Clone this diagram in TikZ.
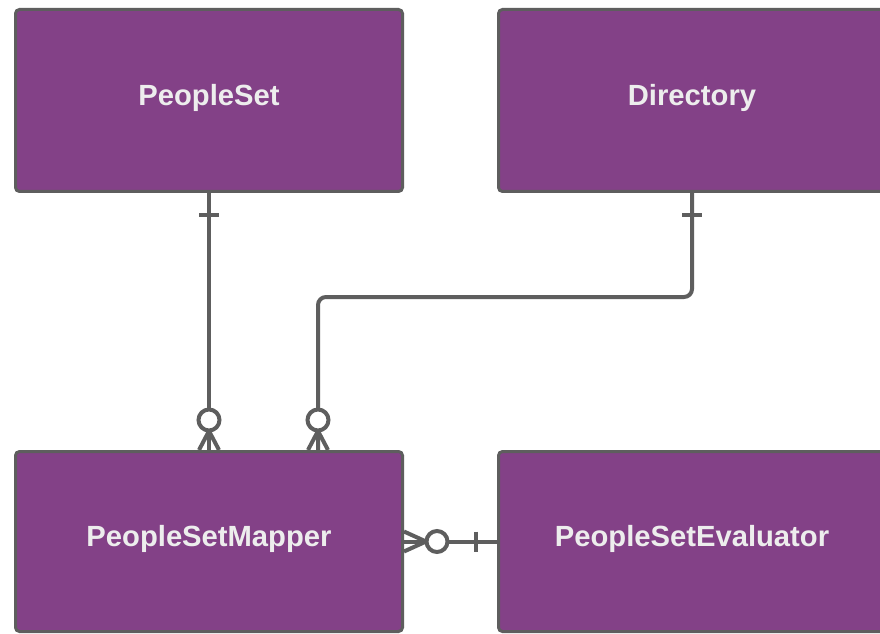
\documentclass[tikz,border=0pt]{standalone}
\usepackage{fontspec}
\setmainfont{Liberation Sans}
\usetikzlibrary{calc}
\definecolor{boxfill}{HTML}{834187}
\definecolor{edgegray}{HTML}{5E5E5E}
\definecolor{txtgray}{HTML}{EDEDED}
\begin{document}
\begin{tikzpicture}[x=0.75pt,y=-0.75pt,
  entity/.style={draw=edgegray, line width=2.25pt, fill=boxfill, rounded corners=3pt,
    minimum width=290.25pt, text=txtgray, inner sep=0pt,
    font=\fontsize{21.9}{25}\selectfont\bfseries, text height=15.9pt, text depth=7.9pt},
  conn/.style={draw=edgegray, line width=3pt},
  zcircle/.style={draw=edgegray, line width=3pt, fill=white}]
\clip (0,0) rectangle (880,634);
\fill[white] (0,0) rectangle (880,634);
\node[entity, minimum height=136.5pt] (ps) at (209,100.5) {PeopleSet};
\node[entity, minimum height=136.5pt] (dir) at (692,100.5) {Directory};
\node[entity, minimum height=135pt] (map) at (209,541.5) {PeopleSetMapper};
\node[entity, minimum height=135pt] (eval) at (692,541.5) {PeopleSetEvaluator};
\coordinate (turn) at (0,297);
\coordinate (m2) at ($(map.north)+(109,0)$);
% PeopleSet -> PeopleSetMapper
\draw[conn] (ps.south) -- (map.north);
\draw[conn] ($(ps.south)+(-10,22)$) -- ++(20,0);
\draw[conn] ($(map.north)+(0,-19)$) -- ($(map.north)+(-10,0)$);
\draw[conn] ($(map.north)+(0,-19)$) -- ($(map.north)+(10,0)$);
\draw[zcircle] ($(map.north)+(0,-30)$) circle[radius=10.5];
% Directory -> PeopleSetMapper
\draw[conn, rounded corners=6pt] (dir.south) -- (dir.south |- turn) -- (m2 |- turn) -- (m2);
\draw[conn] ($(dir.south)+(-10,22)$) -- ++(20,0);
\draw[conn] ($(m2)+(0,-19)$) -- ($(m2)+(-10,0)$);
\draw[conn] ($(m2)+(0,-19)$) -- ($(m2)+(10,0)$);
\draw[zcircle] ($(m2)+(0,-30)$) circle[radius=10.5];
% PeopleSetEvaluator -> PeopleSetMapper
\draw[conn] (map.east) -- (eval.west);
\draw[conn] ($(map.east)+(22,0)$) -- ($(map.east)+(0,-10)$);
\draw[conn] ($(map.east)+(22,0)$) -- ($(map.east)+(0,10)$);
\draw[zcircle] ($(map.east)+(33,0)$) circle[radius=10.5];
\draw[conn] ($(eval.west)+(-21,-10)$) -- ++(0,20);
\end{tikzpicture}
\end{document}
